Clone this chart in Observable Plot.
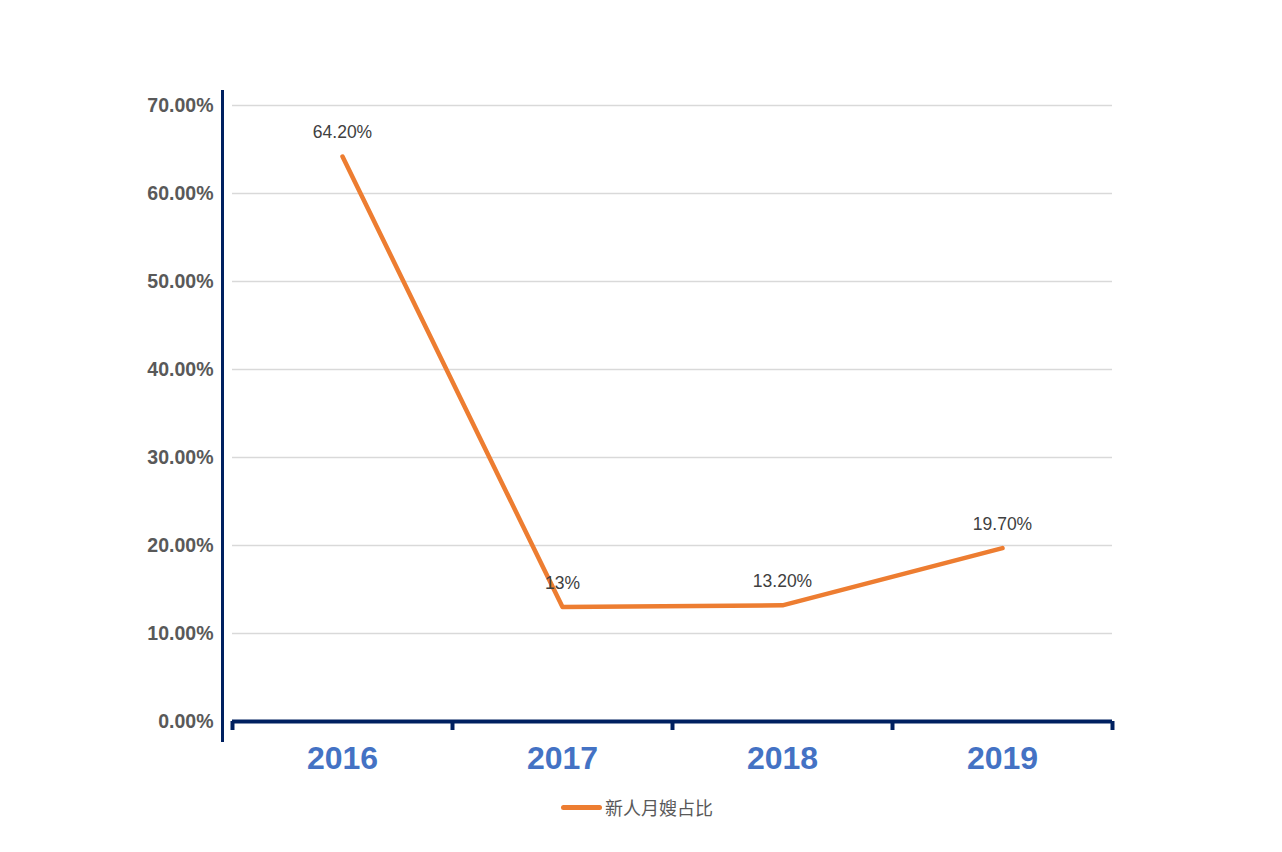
<!DOCTYPE html>
<html>
<head>
<meta charset="utf-8">
<script src="https://cdn.jsdelivr.net/npm/d3@7"></script>
<script src="https://cdn.jsdelivr.net/npm/@observablehq/plot@0.6"></script>
<style>
  html, body { margin: 0; padding: 0; background: #fff; }
  #chart svg { display: block; }
  #legend { width: 1282px; height: 34px; display: flex; justify-content: center; align-items: center;
    font-family: "Noto Sans CJK SC", "Liberation Sans", sans-serif; font-size: 18px; color: #595959; padding-right: 8px; box-sizing: border-box; }
  #legend .sw { width: 41px; height: 5px; border-radius: 3px; background: #ed7d31; margin-right: 3px; }
</style>
</head>
<body>
<div id="chart"></div>
<div id="legend"><span class="sw"></span><span>新人月嫂占比</span></div>
<script>
const years = ["2016", "2017", "2018", "2019"];
const values = [0.642, 0.13, 0.132, 0.197];
const valueLabels = ["64.20%", "13%", "13.20%", "19.70%"];
const yTicks = [0, 0.1, 0.2, 0.3, 0.4, 0.5, 0.6, 0.7];
const seriesName = "新人月嫂占比";

const rows = years.map((yr, i) => ({pos: i + 0.5, year: yr, v: values[i], label: valueLabels[i]}));
const bounds = d3.range(years.length + 1);
const centers = years.map((_, i) => i + 0.5);

const chart = Plot.plot({
  width: 1282,
  height: 790,
  marginLeft: 232,
  marginRight: 170,
  marginTop: 105,
  marginBottom: 69,
  style: {fontFamily: "'Liberation Sans', Arial, sans-serif", background: "#fff"},
  x: {type: "linear", domain: [0, years.length], label: null},
  y: {domain: [0, 0.7], label: null},
  marks: [
    Plot.ruleY(yTicks.slice(1), {stroke: "#d9d9d9", strokeWidth: 1.5}),
    Plot.ruleX([0], {dx: -10, insetTop: -15, insetBottom: -21, stroke: "#002060", strokeWidth: 3}),
    Plot.ruleY([0], {stroke: "#002060", strokeWidth: 4}),
    Plot.axisX(bounds, {tickSize: 9, tickFormat: () => "", stroke: "#002060", strokeWidth: 4, label: null}),
    Plot.axisX(centers, {tickSize: 0, tickPadding: 25, tickFormat: d => years[Math.floor(d)],
      fontSize: 32, fontWeight: "bold", fill: "#4472c4", label: null}),
    Plot.axisY(yTicks, {tickSize: 0, tickPadding: 19, tickFormat: d3.format(".2%"),
      fontSize: 19.5, fontWeight: "bold", fill: "#595959", label: null}),
    Plot.line(rows, {x: "pos", y: "v", stroke: "#ed7d31", strokeWidth: 4.5,
      strokeLinejoin: "round", strokeLinecap: "round"}),
    Plot.text(rows, {x: "pos", y: "v", text: "label", dy: -24, fontSize: 17.5, fill: "#404040"})
  ]
});
document.getElementById("chart").appendChild(chart);
</script>
</body>
</html>
